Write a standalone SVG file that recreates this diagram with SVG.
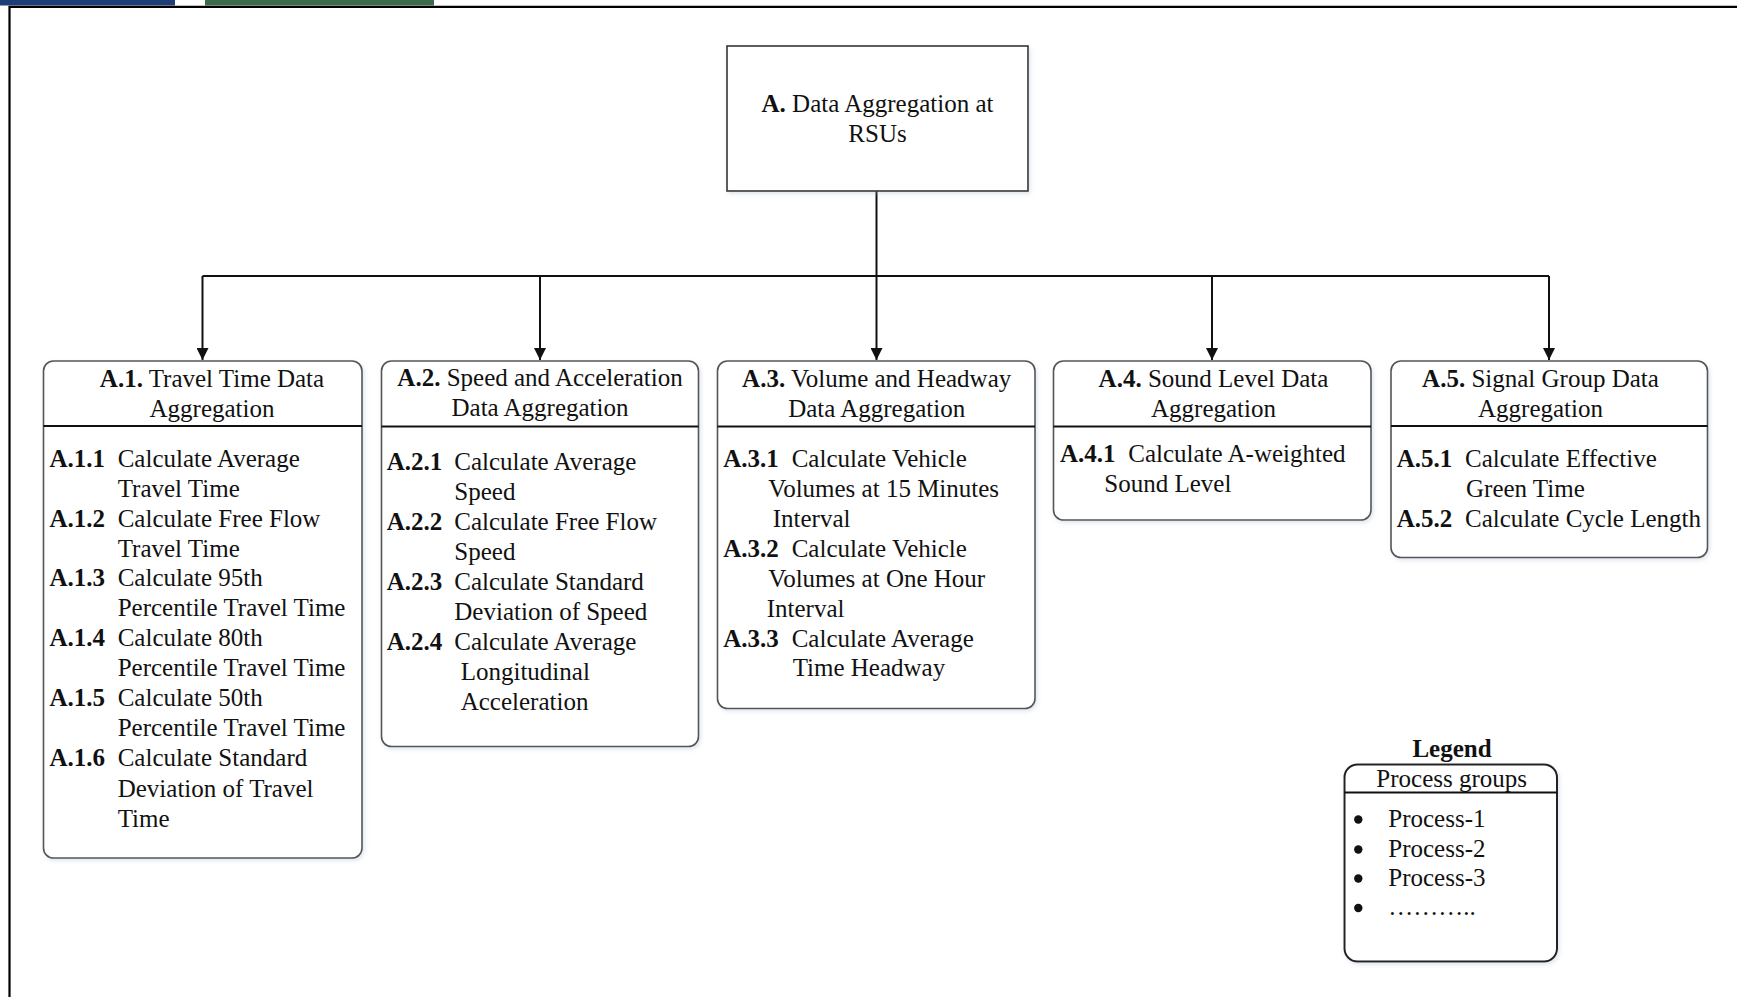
<svg xmlns="http://www.w3.org/2000/svg" width="1737" height="997" viewBox="0 0 1737 997">
<style>
text{font-family:"Liberation Serif","Times New Roman",serif;font-size:25px;fill:#111}
.b{font-weight:bold}
.c{text-anchor:middle}
.box{fill:#fff;stroke:#555;stroke-width:1.6}
.sep{stroke:#111;stroke-width:2.2}
.conn{fill:none;stroke:#111;stroke-width:2}
</style>
<defs>
<marker id="arr" viewBox="0 0 12 12" refX="12" refY="6" markerWidth="12" markerHeight="12" markerUnits="userSpaceOnUse" orient="auto">
<path d="M0,0 L12,6 L0,12 Z" fill="#111"/>
</marker>
<filter id="sh" x="-10%" y="-10%" width="120%" height="120%">
<feDropShadow dx="1.5" dy="2" stdDeviation="2" flood-color="#9fb3cf" flood-opacity="0.35"/>
</filter>
</defs>
<rect x="0" y="0" width="1737" height="997" fill="#fff"/>
<rect x="0" y="0" width="175" height="5.5" fill="#1f3e78"/>
<rect x="205" y="0" width="229" height="5.5" fill="#3e6b4c"/>
<path d="M9.5,997 V6.8 H1737" fill="none" stroke="#000" stroke-width="2.2"/>

<g id="connectors">
<path class="conn" d="M876.5,191 V276"/>
<path class="conn" d="M202.5,276 H1549"/>
<path class="conn" d="M202.5,276 V360" marker-end="url(#arr)"/>
<path class="conn" d="M540,276 V360" marker-end="url(#arr)"/>
<path class="conn" d="M876.5,276 V360" marker-end="url(#arr)"/>
<path class="conn" d="M1212,276 V360" marker-end="url(#arr)"/>
<path class="conn" d="M1549,276 V360" marker-end="url(#arr)"/>
</g>

<g id="nodeA">
<rect x="727" y="46" width="301" height="145" fill="#fff" stroke="#333" stroke-width="1.6" filter="url(#sh)"/>
<text class="c" x="877.5" y="112"><tspan class="b">A.</tspan> Data Aggregation at</text>
<text class="c" x="877.5" y="142">RSUs</text>
</g>

<g id="nodeA1">
<rect class="box" x="43.5" y="361" width="318.5" height="497" rx="10" filter="url(#sh)"/>
<line class="sep" x1="43.5" y1="426" x2="362" y2="426"/>
<text class="c" x="212" y="387"><tspan class="b">A.1.</tspan> Travel Time Data</text>
<text class="c" x="212" y="416.5">Aggregation</text>
<text x="49.5" y="467"><tspan class="b">A.1.1</tspan><tspan x="117.7">Calculate Average</tspan></text>
<text x="117.7" y="497">Travel Time</text>
<text x="49.5" y="527"><tspan class="b">A.1.2</tspan><tspan x="117.7">Calculate Free Flow</tspan></text>
<text x="117.7" y="556.5">Travel Time</text>
<text x="49.5" y="586"><tspan class="b">A.1.3</tspan><tspan x="117.7">Calculate 95th</tspan></text>
<text x="117.7" y="616">Percentile Travel Time</text>
<text x="49.5" y="646"><tspan class="b">A.1.4</tspan><tspan x="117.7">Calculate 80th</tspan></text>
<text x="117.7" y="676">Percentile Travel Time</text>
<text x="49.5" y="706"><tspan class="b">A.1.5</tspan><tspan x="117.7">Calculate 50th</tspan></text>
<text x="117.7" y="736">Percentile Travel Time</text>
<text x="49.5" y="766"><tspan class="b">A.1.6</tspan><tspan x="117.7">Calculate Standard</tspan></text>
<text x="117.7" y="796.5">Deviation of Travel</text>
<text x="117.7" y="826.5">Time</text>
</g>

<g id="nodeA2">
<rect class="box" x="381.5" y="361" width="317" height="385.5" rx="10" filter="url(#sh)"/>
<line class="sep" x1="381.5" y1="426.5" x2="698.5" y2="426.5"/>
<text class="c" x="540" y="386"><tspan class="b">A.2.</tspan> Speed and Acceleration</text>
<text class="c" x="540" y="416">Data Aggregation</text>
<text x="386.7" y="470"><tspan class="b">A.2.1</tspan><tspan x="454.3">Calculate Average</tspan></text>
<text x="454.3" y="500">Speed</text>
<text x="386.7" y="530"><tspan class="b">A.2.2</tspan><tspan x="454.3">Calculate Free Flow</tspan></text>
<text x="454.3" y="560">Speed</text>
<text x="386.7" y="590"><tspan class="b">A.2.3</tspan><tspan x="454.3">Calculate Standard</tspan></text>
<text x="454.3" y="620">Deviation of Speed</text>
<text x="386.7" y="650"><tspan class="b">A.2.4</tspan><tspan x="454.3">Calculate Average</tspan></text>
<text x="460.7" y="680">Longitudinal</text>
<text x="460.7" y="710">Acceleration</text>
</g>

<g id="nodeA3">
<rect class="box" x="717.5" y="361" width="317.5" height="347.5" rx="10" filter="url(#sh)"/>
<line class="sep" x1="717.5" y1="426.5" x2="1035" y2="426.5"/>
<text class="c" x="876.7" y="387"><tspan class="b">A.3.</tspan> Volume and Headway</text>
<text class="c" x="876.7" y="416.5">Data Aggregation</text>
<text x="723.3" y="467"><tspan class="b">A.3.1</tspan><tspan x="791.7">Calculate Vehicle</tspan></text>
<text x="768.3" y="497">Volumes at 15 Minutes</text>
<text x="772.7" y="527">Interval</text>
<text x="723.3" y="557"><tspan class="b">A.3.2</tspan><tspan x="791.7">Calculate Vehicle</tspan></text>
<text x="768.3" y="587">Volumes at One Hour</text>
<text x="766.7" y="617">Interval</text>
<text x="723.3" y="647"><tspan class="b">A.3.3</tspan><tspan x="791.7">Calculate Average</tspan></text>
<text x="792.7" y="676">Time Headway</text>
</g>

<g id="nodeA4">
<rect class="box" x="1053.5" y="361" width="317.5" height="159" rx="10" filter="url(#sh)"/>
<line class="sep" x1="1053.5" y1="426.5" x2="1371" y2="426.5"/>
<text class="c" x="1213.5" y="387"><tspan class="b">A.4.</tspan> Sound Level Data</text>
<text class="c" x="1213.5" y="416.5">Aggregation</text>
<text x="1060" y="462"><tspan class="b">A.4.1</tspan><tspan x="1128.3">Calculate A-weighted</tspan></text>
<text x="1104.3" y="492">Sound Level</text>
</g>

<g id="nodeA5">
<rect class="box" x="1391" y="361" width="316.5" height="196.5" rx="10" filter="url(#sh)"/>
<line class="sep" x1="1391" y1="426" x2="1707.5" y2="426"/>
<text class="c" x="1540.5" y="387"><tspan class="b">A.5.</tspan> Signal Group Data</text>
<text class="c" x="1540.5" y="416.5">Aggregation</text>
<text x="1396.7" y="467"><tspan class="b">A.5.1</tspan><tspan x="1465">Calculate Effective</tspan></text>
<text x="1466" y="497">Green Time</text>
<text x="1396.7" y="527"><tspan class="b">A.5.2</tspan><tspan x="1465">Calculate Cycle Length</tspan></text>
</g>

<g id="legend">
<text class="c b" x="1452" y="757">Legend</text>
<rect x="1344.5" y="764.5" width="212.5" height="197" rx="13" fill="#fff" stroke="#222" stroke-width="2" filter="url(#sh)"/>
<line class="sep" x1="1344.5" y1="792.5" x2="1557" y2="792.5"/>
<text class="c" x="1451.7" y="787">Process groups</text>
<circle cx="1358.3" cy="819.5" r="4.2" fill="#111"/>
<circle cx="1358.3" cy="849.5" r="4.2" fill="#111"/>
<circle cx="1358.3" cy="878.5" r="4.2" fill="#111"/>
<circle cx="1358.3" cy="908" r="4.2" fill="#111"/>
<text x="1388.3" y="827">Process-1</text>
<text x="1388.3" y="857">Process-2</text>
<text x="1388.3" y="886">Process-3</text>
<text x="1388.3" y="915">………..</text>
</g>
</svg>
